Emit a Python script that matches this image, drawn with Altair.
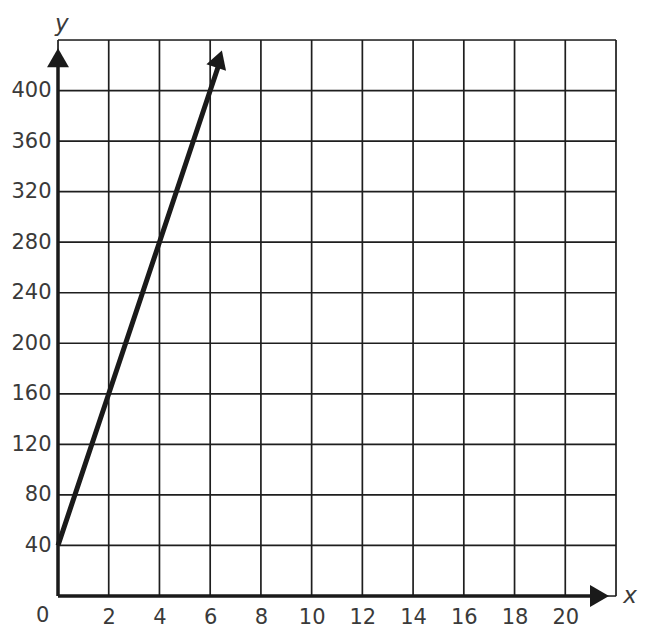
import altair as alt
import pandas as pd

# data
line_x = [0, 2, 4, 6.4]
line_y = [40, 160, 280, 424]
x_ticks = [2, 4, 6, 8, 10, 12, 14, 16, 18, 20]
y_ticks = [40, 80, 120, 160, 200, 240, 280, 320, 360, 400]
grid_x = list(range(0, 23, 2))
grid_y = list(range(0, 441, 40))

line_df = pd.DataFrame({"x": line_x, "y": line_y})

xs = alt.Scale(domain=[0, 22], nice=False, zero=False)
ys = alt.Scale(domain=[0, 440], nice=False, zero=False)

font = "DejaVu Sans"
ink = "#1a1a1a"
lab = "#3a3a3a"

line = alt.Chart(line_df).mark_line(color=ink, strokeWidth=5, strokeCap="butt").encode(
    x=alt.X("x:Q", scale=xs, axis=alt.Axis(
        values=x_ticks, grid=False,
        domain=False, ticks=False, labelFont=font, labelFontSize=21,
        labelColor=lab, labelPadding=10, title=None)),
    y=alt.Y("y:Q", scale=ys, axis=alt.Axis(
        values=y_ticks, grid=False,
        domain=False, ticks=False, labelFont=font, labelFontSize=21,
        labelColor=lab, labelPadding=7, title=None)),
)

vgrid = alt.Chart(pd.DataFrame({"gx": grid_x})).mark_rule(color="#1e1e1e", strokeWidth=1.7).encode(
    x=alt.X("gx:Q", scale=xs))
hgrid = alt.Chart(pd.DataFrame({"gy": grid_y})).mark_rule(color="#1e1e1e", strokeWidth=1.7).encode(
    y=alt.Y("gy:Q", scale=ys))

yaxis = alt.Chart(pd.DataFrame({"a": [0], "b": [0], "c": [430]})).mark_rule(
    color=ink, strokeWidth=3.5).encode(
    x=alt.X("a:Q", scale=xs), y=alt.Y("b:Q", scale=ys), y2="c:Q")
xaxis = alt.Chart(pd.DataFrame({"a": [0], "b": [21.4], "c": [0]})).mark_rule(
    color=ink, strokeWidth=3.5).encode(
    x=alt.X("a:Q", scale=xs), x2="b:Q", y=alt.Y("c:Q", scale=ys))

yarrow = alt.Chart(pd.DataFrame({"x": [0], "y": [426]})).mark_point(
    shape="triangle-up", filled=True, color=ink, size=480, opacity=1).encode(
    x=alt.X("x:Q", scale=xs), y=alt.Y("y:Q", scale=ys))
xarrow = alt.Chart(pd.DataFrame({"x": [21.35], "y": [0]})).mark_point(
    shape="triangle-right", filled=True, color=ink, size=480, opacity=1).encode(
    x=alt.X("x:Q", scale=xs), y=alt.Y("y:Q", scale=ys))
larrow = alt.Chart(pd.DataFrame({"x": [6.35], "y": [425]})).mark_point(
    shape="triangle-up", filled=True, color=ink, size=430, opacity=1, angle=18.5).encode(
    x=alt.X("x:Q", scale=xs), y=alt.Y("y:Q", scale=ys))

zero = alt.Chart(pd.DataFrame({"x": [-0.6], "y": [-16], "t": ["0"]})).mark_text(
    font=font, fontSize=21, color=lab, baseline="middle", align="center").encode(
    x=alt.X("x:Q", scale=xs), y=alt.Y("y:Q", scale=ys), text="t:N")

titles = alt.Chart(pd.DataFrame({"x": [22.55, 0.15], "y": [0, 453], "t": ["x", "y"]})).mark_text(
    font=font, fontSize=23, fontStyle="italic", color=lab, baseline="middle", align="center").encode(
    x=alt.X("x:Q", scale=xs), y=alt.Y("y:Q", scale=ys), text="t:N")

chart = alt.layer(vgrid, hgrid, line, yaxis, xaxis, yarrow, xarrow, larrow, zero, titles).properties(
    width=558, height=556,
    autosize=alt.AutoSizeParams(type="none"),
    padding={"left": 50, "top": 32, "right": 28, "bottom": 36},
).configure_view(stroke="#111", strokeWidth=2.5).configure(background="white")

chart.save("out.html", embed_options={"renderer": "svg", "actions": False})
